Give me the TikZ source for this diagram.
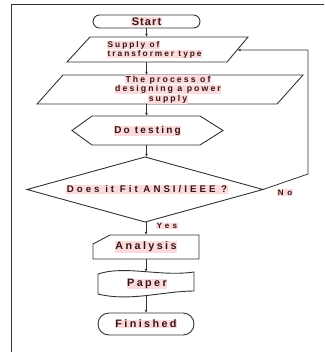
\documentclass[tikz,border=0pt]{standalone}
\usepackage{fontspec}
\setmainfont{Liberation Sans}
\usetikzlibrary{arrows.meta,shapes.misc}
\definecolor{linec}{HTML}{333333}
\definecolor{txtc}{HTML}{3A1414}
\definecolor{hlpink}{HTML}{FADADA}
\newcommand\lf[3]{\fontsize{#1}{#2}\selectfont\bfseries\addfontfeature{LetterSpace=#3}}
\newcommand\hl[1]{{\setlength\fboxsep{0.5pt}\colorbox{hlpink}{#1}}}
\begin{document}
\begin{tikzpicture}[x=1pt,y=-1pt,
  box/.style={inner sep=0pt, outer sep=0pt, minimum width=#1},
  shp/.style={draw=linec, line width=0.9pt},
  lbl/.style={inner sep=0pt, text=txtc, align=center},
  arr/.style={draw=linec, line width=0.8pt, -{Latex[length=3.2pt,width=2.8pt]}}]
\useasboundingbox (0,0) rectangle (324,352);
% frame
\draw[draw=linec, line width=1pt] (11,352) -- (11,5) -- (324,5);
% shape nodes
\node[box=107pt, minimum height=13pt, rounded rectangle, shp] (start) at (146.5,21.5) {};
\node[box=181pt, minimum height=25pt] (p1) at (157.5,49.5) {};
\node[box=266pt, minimum height=29pt] (p2) at (170,89.5) {};
\node[box=151pt, minimum height=29pt] (hex) at (147.5,130.5) {};
\node[box=236pt, minimum height=65pt] (dia) at (145,189.5) {};
\node[box=106pt, minimum height=24pt] (ana) at (146,247) {};
\node[box=96pt, minimum height=24pt] (pap) at (146,283) {};
\node[box=96pt, minimum height=22pt, rounded rectangle, shp] (fin) at (146,324) {};
% outlines
\draw[shp] ([xshift=23pt]p1.north west) -- (p1.north east) -- ([xshift=-21pt]p1.south east) -- (p1.south west) -- cycle;
\draw[shp] ([xshift=26pt]p2.north west) -- (p2.north east) -- ([xshift=-26pt]p2.south east) -- (p2.south west) -- cycle;
\draw[shp] (hex.west) -- ([xshift=20pt]hex.north west) -- ([xshift=-23pt]hex.north east) -- (hex.east) -- ([xshift=-23pt]hex.south east) -- ([xshift=20pt]hex.south west) -- cycle;
\draw[shp] (dia.north) -- (dia.east) -- (dia.south) -- (dia.west) -- cycle;
\draw[shp] ([yshift=15pt]ana.south west) -- ([xshift=17pt]ana.north west) -- (ana.north east) -- (ana.south east) -- (ana.south west) -- cycle;
\draw[shp] ([yshift=-3pt]pap.north west) .. controls +(27pt,9pt) and +(-34pt,-5pt) .. ([yshift=-1pt]pap.north east)
  -- ([yshift=4pt]pap.south east) .. controls +(-30pt,0pt) and +(32pt,-8pt) .. ([yshift=1pt]pap.south west) -- cycle;
% texts
\node[lbl, font=\lf{11}{13}{10}] (startT) at (start) {\hl{Start}};
\node[lbl, anchor=west, align=left, font=\lf{8.3}{9.2}{24}] (p1T) at (107,49.5) {\hl{Supply of}\\\hl{transformer type}};
\node[lbl, font=\lf{8.7}{9.7}{24}] (p2T) at (168,89.5) {\hl{The process of}\\\hl{designing a power}\\\hl{supply}};
\node[lbl, font=\lf{10}{12}{22}] (hexT) at (147.5,131) {\hl{Do testing}};
\node[lbl, font=\lf{9.7}{12}{31}] (diaT) at (147,189.5) {\hl{Does it Fit ANSI/IEEE ?}};
\node[lbl, font=\lf{10.8}{12}{22}] (anaT) at (146,247) {\hl{Analysis}};
\node[lbl, font=\lf{10.8}{12}{22}] (papT) at (147,284) {\hl{Paper}};
\node[lbl, font=\lf{10.8}{12}{22}] (finT) at (146,324) {\hl{Finished}};
\node[lbl, font=\lf{8}{9}{40}] (yes) at (167,226) {\hl{Yes}};
\node[lbl, font=\lf{8}{9}{45}] (no) at (285,192.5) {\hl{No}};
% connectors
\coordinate (fbA) at (308,174);
\coordinate (fbB) at (308,50);
\coordinate (p1R) at (237.5,50);
\draw[arr] (start.south) -- (start.south |- p1.north);
\draw[arr] (start.south |- p1.south) -- (start.south |- p2.north);
\draw[arr] (start.south |- p2.south) -- (start.south |- hex.north);
\draw[arr] (start.south |- hex.south) -- (start.south |- dia.north);
\draw[arr] (dia.south -| ana.north) -- (ana.north);
\draw[arr] (ana.south) -- ([yshift=-1pt]pap.north);
\draw[arr] ([yshift=-1pt]pap.south) -- (fin.north);
\draw[arr] (dia.east) -- (fbA) -- (fbB) -- (p1R);
\end{tikzpicture}
\end{document}
